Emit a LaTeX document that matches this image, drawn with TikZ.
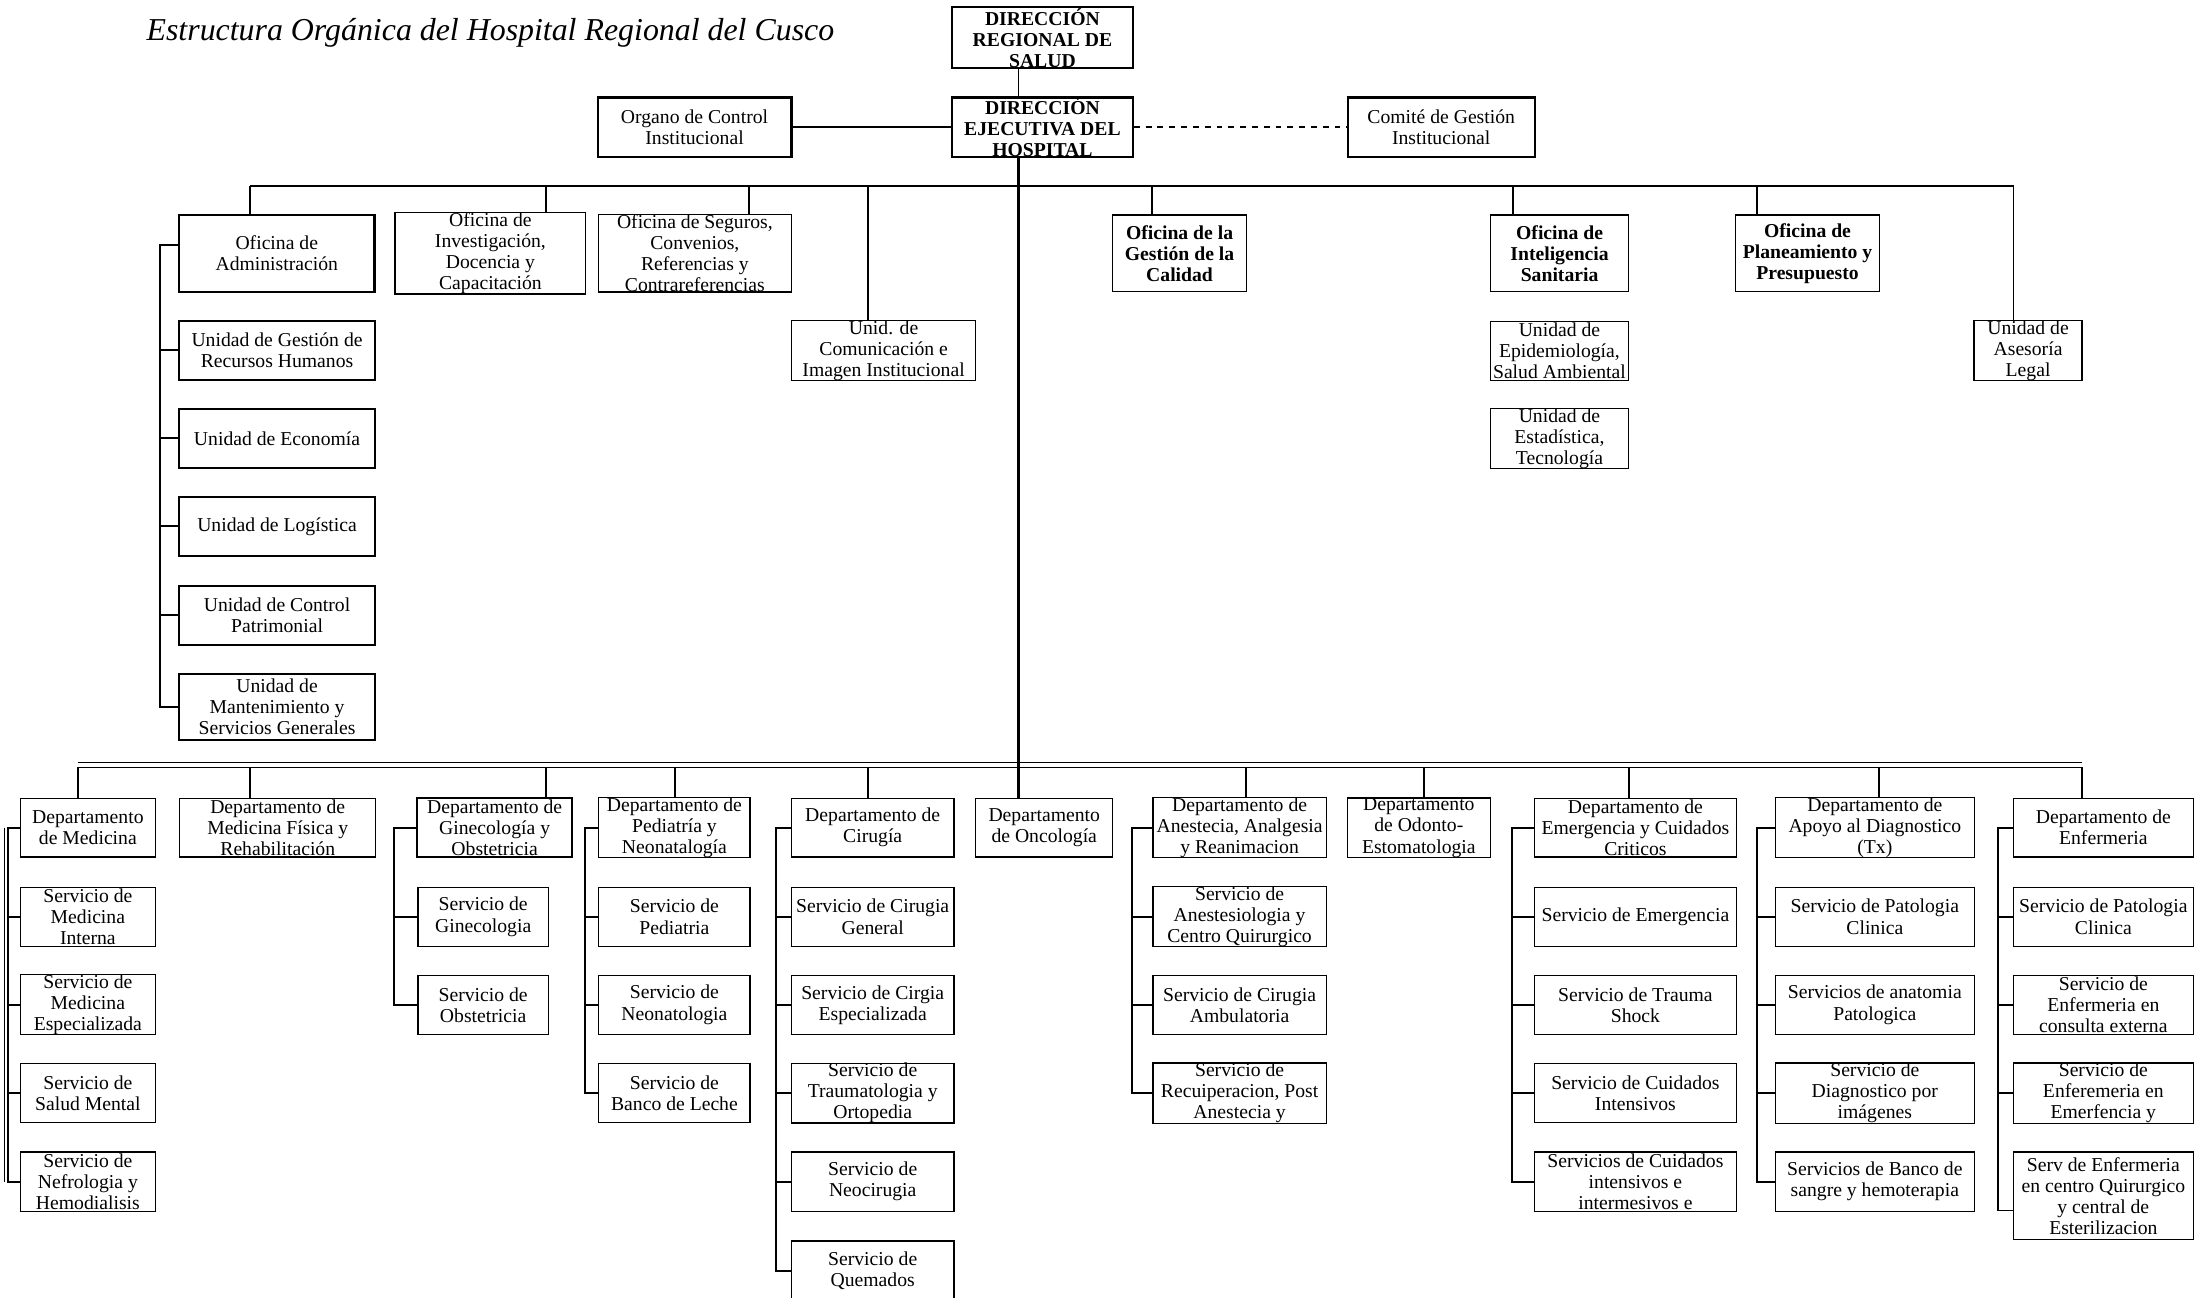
\documentclass[tikz,border=0pt]{standalone}
\usepackage{fontspec}
\setmainfont{Liberation Serif}
\usetikzlibrary{positioning,calc}
\tikzset{
  box/.style={draw,line width=0.6pt,align=center,inner xsep=1pt,inner ysep=0pt,font=\fontsize{10}{10.7}\selectfont},
  boxb/.style={box,line width=1.2pt},
  boldtxt/.style={font=\fontsize{10}{10.7}\selectfont\bfseries},
  head/.style={boxb,boldtxt},
  sz/.style 2 args={minimum width=#1*0.025cm,minimum height=#2*0.025cm},
  conn/.style={line width=1pt},
  trunk/.style={line width=1.4pt},
  rule/.style={line width=0.4pt},
}
\begin{document}
\begin{tikzpicture}[x=0.025cm,y=-0.025cm]
  \useasboundingbox (0,0) rectangle (1568,927);
  \node[anchor=base west,inner sep=0pt,font=\fontsize{16.2}{19}\selectfont\itshape] (title) at (104.5,29) {Estructura Orgánica del Hospital Regional del Cusco};

  % direccion
  \node[head,sz={129}{43.6}] (reg) at (745,27) {DIRECCIÓN\\REGIONAL DE\\SALUD};
  \node[head,sz={129}{42.2}] (eje) at (745,90.9) {DIRECCIÓN\\EJECUTIVA DEL\\HOSPITAL};
  \node[boxb,sz={138.3}{42.2}] (oci) at (496.4,90.9) {Organo de Control\\Institucional};
  \node[boxb,sz={133.6}{42.2}] (cgi) at (1030,90.9) {Comité de Gestión\\Institucional};

  % oficinas
  \node[boxb,sz={139.5}{54.8}] (adm) at (197.8,181.1) {Oficina de\\Administración};
  \node[box,sz={136.4}{54.8}] (inv) at (350.5,181.1) {Oficina de\\Investigación,\\Docencia y\\Capacitación};
  \node[box,sz={137.8}{54.8}] (seg) at (496.6,181.1) {Oficina de Seguros,\\Convenios,\\Referencias y\\Contrareferencias};
  \node[box,boldtxt,sz={95.5}{54.8}] (cal) at (843,181.1) {Oficina de la\\Gestión de la\\Calidad};
  \node[box,boldtxt,sz={98.5}{54.8}] (int) at (1114.6,181.1) {Oficina de\\Inteligencia\\Sanitaria};
  \node[box,boldtxt,sz={102.7}{54.8}] (pla) at (1291.8,181.1) {Oficina de\\Planeamiento y\\Presupuesto};
  \node[box,sz={131.7}{42.2}] (com) at (631.5,250.6) {Unid. de\\Comunicación e\\Imagen Institucional};
  \node[box,sz={99}{42.2}] (epi) at (1114.5,250.6) {Unidad de\\Epidemiología,\\Salud Ambiental};
  \node[box,sz={99}{42.3}] (est) at (1114.5,313.5) {Unidad de\\Estadística,\\Tecnología};
  \node[box,sz={77.2}{42.2}] (ase) at (1449.4,250.6) {Unidad de\\Asesoría\\Legal};

  % unidades de administracion
  \node[boxb,sz={140}{42.4}] (rh) at (198,250.4) {Unidad de Gestión de\\Recursos Humanos};
  \node[boxb,sz={140}{42.4}] (eco) at (198,313.3) {Unidad de Economía};
  \node[boxb,sz={140}{42.4}] (log) at (198,376.2) {Unidad de Logística};
  \node[boxb,sz={140}{42.1}] (cpa) at (198,439.7) {Unidad de Control\\Patrimonial};
  \node[boxb,sz={140}{47.4}] (man) at (198,505.2) {Unidad de\\Mantenimiento y\\Servicios Generales};

  % departamentos
  \node[box,sz={96.4}{42}] (dmed) at (62.8,591.5) {Departamento\\de Medicina};
  \node[box,sz={140}{42}] (dmfr) at (198.5,591.5) {Departamento de\\Medicina Física y\\Rehabilitación};
  \node[boxb,sz={111}{42}] (dgin) at (353.5,591.5) {Departamento de\\Ginecología y\\Obstetricia};
  \node[box,sz={108}{42}] (dped) at (482,591.5) {Departamento de\\Pediatría y\\Neonatalogía};
  \node[box,sz={116.1}{42}] (dcir) at (623.7,591.5) {Departamento de\\Cirugía};
  \node[box,sz={98.1}{42}] (donc) at (746.3,591.5) {Departamento\\de Oncología};
  \node[box,sz={123.7}{42}] (dane) at (885.9,591.5) {Departamento de\\Anestecia, Analgesia\\y Reanimacion};
  \node[box,sz={102}{42}] (dodo) at (1014,591.5) {Departamento\\de Odonto-\\Estomatologia};
  \node[box,sz={143.9}{42}] (deme) at (1168.8,591.5) {Departamento de\\Emergencia y Cuidados\\Criticos};
  \node[box,sz={142.3}{42}] (dapo) at (1339.9,591.5) {Departamento de\\Apoyo al Diagnostico\\(Tx)};
  \node[box,sz={128.4}{42}] (denf) at (1503.2,591.5) {Departamento de\\Enfermeria};

  % servicios
  \node[box,sz={96.4}{42.4}] (smed1) at (62.8,655.2) {Servicio de\\Medicina\\Interna};
  \node[box,sz={96.4}{42.4}] (smed2) at (62.8,718.1) {Servicio de\\Medicina\\Especializada};
  \node[box,sz={96.4}{42.4}] (smed3) at (62.8,781.2) {Servicio de\\Salud Mental};
  \node[box,sz={96.4}{42.4}] (smed4) at (62.8,844.5) {Servicio de\\Nefrologia y\\Hemodialisis};
  \node[box,sz={93.2}{42.4}] (sgin1) at (345.3,655.2) {Servicio de\\Ginecologia};
  \node[box,sz={93.2}{42.4}] (sgin2) at (345.3,718.1) {Servicio de\\Obstetricia};
  \node[box,sz={108}{42.4}] (sped1) at (482,655.2) {Servicio de\\Pediatria};
  \node[box,sz={108}{42.4}] (sped2) at (482,718.1) {Servicio de\\Neonatologia};
  \node[box,sz={108}{42.4}] (sped3) at (482,781.2) {Servicio de\\Banco de Leche};
  \node[box,sz={116.1}{42.4}] (scir1) at (623.7,655.2) {Servicio de Cirugia\\General};
  \node[box,sz={116.1}{42.4}] (scir2) at (623.7,718.1) {Servicio de Cirgia\\Especializada};
  \node[box,sz={116.1}{42.4}] (scir3) at (623.7,781.2) {Servicio de\\Traumatologia y\\Ortopedia};
  \node[box,sz={116.1}{42.4}] (scir4) at (623.7,844.5) {Servicio de\\Neocirugia};
  \node[box,sz={116.1}{42.4}] (scir5) at (623.7,908.1) {Servicio de\\Quemados};
  \node[box,sz={123.7}{42.4}] (sane1) at (885.9,655.2) {Servicio de\\Anestesiologia y\\Centro Quirurgico};
  \node[box,sz={123.7}{42.4}] (sane2) at (885.9,718.1) {Servicio de Cirugia\\Ambulatoria};
  \node[box,sz={123.7}{42.4}] (sane3) at (885.9,781.2) {Servicio de\\Recuiperacion, Post\\Anestecia y};
  \node[box,sz={143.9}{42.4}] (seme1) at (1168.8,655.2) {Servicio de Emergencia};
  \node[box,sz={143.9}{42.4}] (seme2) at (1168.8,718.1) {Servicio de Trauma\\Shock};
  \node[box,sz={143.9}{42.4}] (seme3) at (1168.8,781.2) {Servicio de Cuidados\\Intensivos};
  \node[box,sz={143.9}{42.4}] (seme4) at (1168.8,844.5) {Servicios de Cuidados\\intensivos e\\intermesivos e};
  \node[box,sz={142.3}{42.4}] (sapo1) at (1339.9,655.2) {Servicio de Patologia\\Clinica};
  \node[box,sz={142.3}{42.4}] (sapo2) at (1339.9,718.1) {Servicios de anatomia\\Patologica};
  \node[box,sz={142.3}{42.4}] (sapo3) at (1339.9,781.2) {Servicio de\\Diagnostico por\\imágenes};
  \node[box,sz={142.3}{42.4}] (sapo4) at (1339.9,844.5) {Servicios de Banco de\\sangre y hemoterapia};
  \node[box,sz={128.4}{42.4}] (senf1) at (1503.2,655.2) {Servicio de Patologia\\Clinica};
  \node[box,sz={128.4}{42.4}] (senf2) at (1503.2,718.1) {Servicio de\\Enfermeria en\\consulta externa};
  \node[box,sz={128.4}{42.4}] (senf3) at (1503.2,781.2) {Servicio de\\Enferemeria en\\Emerfencia y};
  \node[box,sz={128.4}{62.7}] (senf4) at (1503.2,854.7) {Serv de Enfermeria\\en centro Quirurgico\\y central de\\Esterilizacion};

  % lineas superiores
  \draw[conn] (reg.south -| 727.9,0) -- (eje.north -| 727.9,0);
  \draw[conn] (oci.east) -- (eje.west);
  \draw[conn,dashed] (eje.east) -- (cgi.west);
  \draw[trunk] (eje.south -| 727.9,0) -- (donc.north -| 727.9,0);
  \coordinate (ub1) at (179,132.7); \coordinate (ub2) at (1439,132.7);
  \draw[conn] (ub1) -- (ub2);
  \draw[conn] (ub1) -- (adm.north -| ub1); \draw[conn] (ub1 -| 390,0) -- (inv.north -| 390,0);
  \draw[conn] (ub1 -| 535,0) -- (seg.north -| 535,0); \draw[conn] (ub1 -| 620,0) -- (com.north -| 620,0);
  \draw[conn] (ub1 -| 823,0) -- (cal.north -| 823,0); \draw[conn] (ub1 -| 1081,0) -- (int.north -| 1081,0);
  \draw[conn] (ub1 -| 1256,0) -- (pla.north -| 1256,0); \draw[conn] (ub2) -- (ase.north -| ub2);
  \draw[conn] ([yshift=0.15cm]adm.west) -- ++(-12.6,0) |- (man.west);
  \draw[conn] (rh.west) -- ++(-12.6,0) (eco.west) -- ++(-12.6,0) (log.west) -- ++(-12.6,0) (cpa.west) -- ++(-12.6,0);

  % lineas inferiores
  \coordinate (lb1) at (55.5,548.5); \coordinate (lb2) at (1487.7,548.5);
  \draw[conn] (lb1) -- (lb2);
  \draw[rule] ([yshift=0.09cm]lb1) -- ([yshift=0.09cm]lb2);
  \draw[conn] (lb1) -- (dmed.north -| lb1); \draw[conn] (lb1 -| 179,0) -- (dmfr.north -| 179,0);
  \draw[conn] (lb1 -| 390.4,0) -- (dgin.north -| 390.4,0); \draw[conn] (lb1 -| 482.6,0) -- (dped.north -| 482.6,0);
  \draw[conn] (lb1 -| 620,0) -- (dcir.north -| 620,0); \draw[conn] (lb1 -| 890.7,0) -- (dane.north -| 890.7,0);
  \draw[conn] (lb1 -| 1018,0) -- (dodo.north -| 1018,0); \draw[conn] (lb1 -| 1163.9,0) -- (deme.north -| 1163.9,0);
  \draw[conn] (lb1 -| 1342.6,0) -- (dapo.north -| 1342.6,0); \draw[conn] (lb2) -- (denf.north -| lb2);

  \draw[conn] (dmed.west) -- ++(-8.4,0) |- (smed4.west);
  \draw[conn] (smed1.west) -- ++(-8.4,0) (smed2.west) -- ++(-8.4,0) (smed3.west) -- ++(-8.4,0);
  \draw[rule] (dmed.west -| 2.8,0) -- (smed4.west -| 2.8,0);
  \draw[conn] (dgin.west) -- ++(-15.7,0) |- (sgin2.west); \draw[conn] (sgin1.west) -- ++(-16.4,0);
  \draw[conn] (dped.west) -- ++(-9.5,0) |- (sped3.west);
  \draw[conn] (sped1.west) -- ++(-9.5,0) (sped2.west) -- ++(-9.5,0);
  \draw[conn] (dcir.west) -- ++(-10.4,0) |- (scir5.west);
  \draw[conn] (scir1.west) -- ++(-10.4,0) (scir2.west) -- ++(-10.4,0) (scir3.west) -- ++(-10.4,0) (scir4.west) -- ++(-10.4,0);
  \draw[conn] (dane.west) -- ++(-14.8,0) |- (sane3.west);
  \draw[conn] (sane1.west) -- ++(-14.8,0) (sane2.west) -- ++(-14.8,0);
  \draw[conn] (deme.west) -- ++(-15.6,0) |- (seme4.west);
  \draw[conn] (seme1.west) -- ++(-15.6,0) (seme2.west) -- ++(-15.6,0) (seme3.west) -- ++(-15.6,0);
  \draw[conn] (dapo.west) -- ++(-12.4,0) |- (sapo4.west);
  \draw[conn] (sapo1.west) -- ++(-12.4,0) (sapo2.west) -- ++(-12.4,0) (sapo3.west) -- ++(-12.4,0);
  \draw[conn] (denf.west) -- ++(-10.5,0) |- ([yshift=-0.26cm]senf4.west);
  \draw[conn] (senf1.west) -- ++(-10.5,0) (senf2.west) -- ++(-10.5,0) (senf3.west) -- ++(-10.5,0);
\end{tikzpicture}
\end{document}
